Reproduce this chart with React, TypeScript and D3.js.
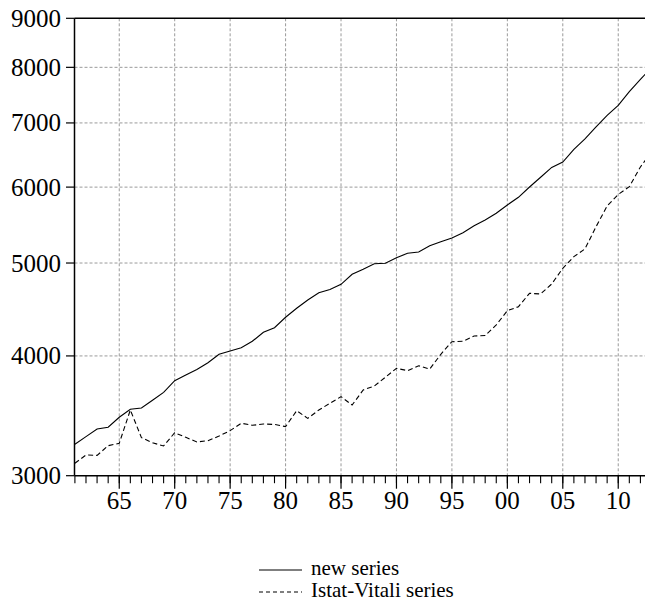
import React from "react";
import * as d3 from "d3";

const years = [
  1961, 1962, 1963, 1964, 1965, 1966, 1967, 1968, 1969, 1970,
  1971, 1972, 1973, 1974, 1975, 1976, 1977, 1978, 1979, 1980,
  1981, 1982, 1983, 1984, 1985, 1986, 1987, 1988, 1989, 1990,
  1991, 1992, 1993, 1994, 1995, 1996, 1997, 1998, 1999, 2000,
  2001, 2002, 2003, 2004, 2005, 2006, 2007, 2008, 2009, 2010,
  2011, 2012, 2013,
];

const newSeries = [
  3235, 3295, 3356, 3370, 3452, 3519, 3530, 3596, 3665, 3769,
  3821, 3872, 3935, 4016, 4048, 4080, 4143, 4234, 4281, 4389,
  4485, 4575, 4656, 4692, 4751, 4867, 4925, 4992, 4997, 5065,
  5118, 5134, 5213, 5263, 5310, 5378, 5469, 5544, 5635, 5748,
  5855, 6002, 6144, 6290, 6373, 6568, 6736, 6933, 7127, 7300,
  7546, 7770, 7997,
];

const istatSeries = [
  3091, 3153, 3150, 3224, 3243, 3513, 3287, 3247, 3222, 3326,
  3290, 3253, 3263, 3300, 3343, 3403, 3386, 3397, 3393, 3375,
  3507, 3443, 3513, 3570, 3627, 3555, 3686, 3721, 3800, 3883,
  3861, 3907, 3876, 4016, 4139, 4143, 4196, 4201, 4309, 4459,
  4502, 4649, 4642, 4754, 4937, 5077, 5172, 5456, 5734, 5895,
  6006, 6298, 6529,
];

const yTicks = [3000, 4000, 5000, 6000, 7000, 8000, 9000];
const xMajorYears = [1965, 1970, 1975, 1980, 1985, 1990, 1995, 2000, 2005, 2010];
const xMajorLabels = ["65", "70", "75", "80", "85", "90", "95", "00", "05", "10"];
const legendLabels = ["new series", "Istat-Vitali series"];

const W = 645;
const H = 601;
const left = 74.5;
const right = 645;
const top = 18.3;
const bottom = 475.7;

const font = '"Liberation Serif", "Times New Roman", serif';

export default function App() {
  const x = d3.scaleLinear().domain([1961, 2013]).range([74.9, 651.5]);
  const y = d3.scaleLog().domain([3000, 9000]).range([bottom, top]);

  const minorYears = d3.range(1961, 2013);

  const line = d3
    .line<number>()
    .x((_, i) => x(years[i]))
    .y((d) => y(d));

  const grid = "#9a9a9a";

  return (
    <svg
      width={W}
      height={H}
      style={{ position: "absolute", left: 0, top: 0, background: "#fff" }}
    >
      <defs>
        <clipPath id="plot">
          <rect x={left} y={top - 2} width={right - left} height={bottom - top + 4} />
        </clipPath>
      </defs>
      <rect x={0} y={0} width={W} height={H} fill="#fff" />

      {/* grid */}
      {yTicks
        .filter((t) => t !== 3000 && t !== 9000)
        .map((t) => (
          <line
            key={"gy" + t}
            x1={left}
            x2={right}
            y1={y(t)}
            y2={y(t)}
            stroke={grid}
            strokeWidth={1}
            strokeDasharray="3,2"
          />
        ))}
      {xMajorYears.map((yr) => (
        <line
          key={"gx" + yr}
          x1={x(yr)}
          x2={x(yr)}
          y1={top}
          y2={bottom}
          stroke={grid}
          strokeWidth={1}
          strokeDasharray="3,2"
        />
      ))}

      {/* series */}
      <g clipPath="url(#plot)">
        <path d={line(newSeries) || ""} fill="none" stroke="#000" strokeWidth={1.1} />
        <path
          d={line(istatSeries) || ""}
          fill="none"
          stroke="#000"
          strokeWidth={1.1}
          strokeDasharray="5,3"
        />
      </g>

      {/* axes */}
      <line x1={left} x2={right} y1={top} y2={top} stroke="#000" strokeWidth={1.5} />
      <line x1={left} x2={left} y1={top} y2={bottom} stroke="#000" strokeWidth={1.5} />
      <line x1={left} x2={right} y1={bottom} y2={bottom} stroke="#000" strokeWidth={1.5} />

      {yTicks.map((t) => (
        <g key={"yt" + t}>
          <line x1={66} x2={left} y1={y(t)} y2={y(t)} stroke="#000" strokeWidth={1.2} />
          <text
            x={61}
            y={y(t)}
            dy="0.34em"
            textAnchor="end"
            fontFamily={font}
            fontSize={25}
            fill="#000"
          >
            {t}
          </text>
        </g>
      ))}

      {minorYears.map((yr) => (
        <line
          key={"mt" + yr}
          x1={x(yr)}
          x2={x(yr)}
          y1={bottom}
          y2={bottom + 7.5}
          stroke="#000"
          strokeWidth={1.1}
        />
      ))}
      {xMajorYears.map((yr, i) => (
        <g key={"xt" + yr}>
          <line x1={x(yr)} x2={x(yr)} y1={bottom} y2={bottom + 13} stroke="#000" strokeWidth={1.2} />
          <text
            x={x(yr)}
            y={509}
            textAnchor="middle"
            fontFamily={font}
            fontSize={25}
            fill="#000"
          >
            {xMajorLabels[i]}
          </text>
        </g>
      ))}

      {/* legend */}
      <line x1={259} x2={302} y1={570} y2={570} stroke="#000" strokeWidth={1.1} />
      <text x={311} y={575} fontFamily={font} fontSize={21} fill="#000">
        {legendLabels[0]}
      </text>
      <line
        x1={259}
        x2={302}
        y1={592}
        y2={592}
        stroke="#000"
        strokeWidth={1.1}
        strokeDasharray="4,3"
      />
      <text x={311} y={597} fontFamily={font} fontSize={21} fill="#000">
        {legendLabels[1]}
      </text>
    </svg>
  );
}
